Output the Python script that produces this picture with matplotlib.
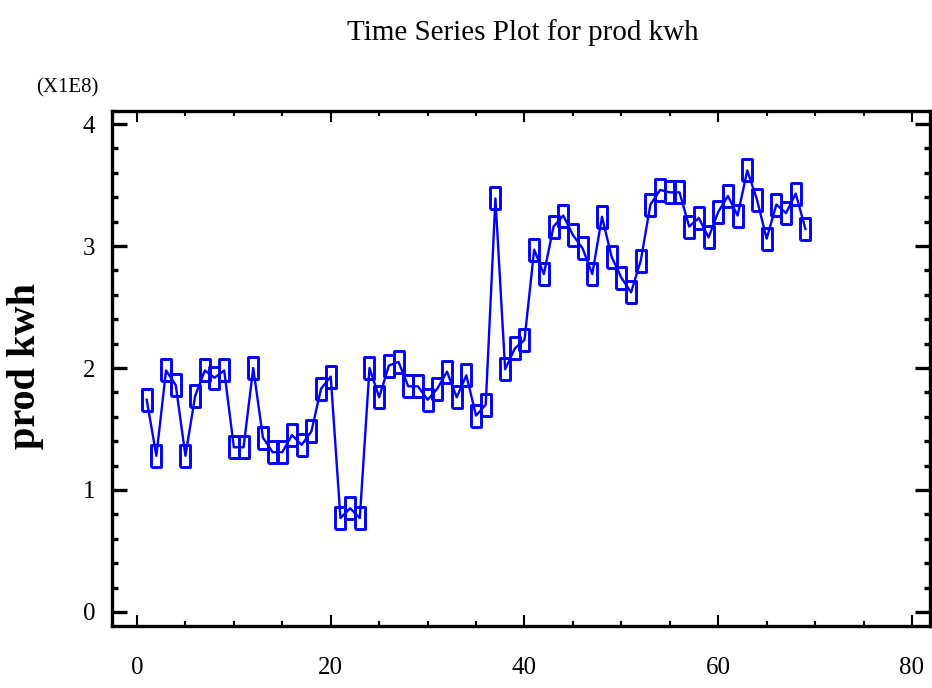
import matplotlib
matplotlib.use("Agg")
import matplotlib.pyplot as plt
from matplotlib.ticker import MultipleLocator

# ---- data (values in units of 1E8 kWh) ----
period = list(range(1, 70))
prod_kwh = [
    1.74, 1.28, 1.98, 1.86, 1.28, 1.77, 1.98, 1.92, 1.98, 1.35,
    1.35, 2.00, 1.43, 1.31, 1.31, 1.45, 1.37, 1.48, 1.83, 1.93,
    0.77, 0.85, 0.77, 2.00, 1.76, 2.02, 2.05, 1.85, 1.85, 1.74,
    1.83, 1.97, 1.76, 1.94, 1.61, 1.70, 3.39, 1.99, 2.16, 2.23,
    2.97, 2.77, 3.16, 3.25, 3.09, 2.98, 2.77, 3.24, 2.91, 2.74,
    2.62, 2.88, 3.34, 3.46, 3.44, 3.44, 3.16, 3.23, 3.07, 3.28,
    3.41, 3.25, 3.62, 3.38, 3.06, 3.34, 3.27, 3.43, 3.14,
]
x_ticks = [0, 20, 40, 60, 80]
y_ticks = [0, 1, 2, 3, 4]

title = "Time Series Plot for prod kwh"
ylabel = "prod kwh"
scale_note = "(X1E8)"

serif = ["Liberation Serif", "DejaVu Serif"]
blue = "#0000FF"

fig = plt.figure(figsize=(9.32, 6.88), dpi=100)
ax = fig.add_axes([112 / 932, 1 - 626 / 688, (930 - 112) / 932, (626 - 111) / 688])

# tall narrow rectangle marker
rect = [(-0.42, -1), (0.42, -1), (0.42, 1), (-0.42, 1), (-0.42, -1)]
ax.plot(period, prod_kwh, color=blue, lw=1.7, marker=rect, markersize=16.5,
        markerfacecolor="none", markeredgecolor=blue, markeredgewidth=2.1)

ax.set_xlim(-2.58, 81.86)
ax.set_ylim(-0.115, 4.107)
ax.set_xticks(x_ticks)
ax.set_yticks(y_ticks)
ax.xaxis.set_minor_locator(MultipleLocator(5))
ax.yaxis.set_minor_locator(MultipleLocator(0.2))

for s in ax.spines.values():
    s.set_linewidth(2.4)

ax.tick_params(axis="y", which="major", direction="in", length=11, width=2.4,
               left=True, right=True, pad=12, labelsize=18)
ax.tick_params(axis="y", which="minor", direction="in", length=4.5, width=2.4,
               left=True, right=True)
ax.tick_params(axis="x", which="major", direction="in", length=8, width=1.5,
               bottom=True, top=True, pad=22, labelsize=18)
ax.tick_params(axis="x", which="minor", direction="in", length=3.5, width=1.5,
               bottom=True, top=True)
for lab in ax.get_xticklabels() + ax.get_yticklabels():
    lab.set_fontfamily(serif)

fig.text(523 / 932, 1 - 33 / 688, title, ha="center", va="center",
         fontsize=21, family=serif)
fig.text(67 / 932, 1 - 88 / 688, scale_note, ha="center", va="center",
         fontsize=15, family=serif)
fig.text(25 / 932, 1 - 366 / 688, ylabel, ha="center", va="center",
         rotation=90, fontsize=29, fontweight="bold", family=serif)

fig.savefig("out.png", dpi=100)
